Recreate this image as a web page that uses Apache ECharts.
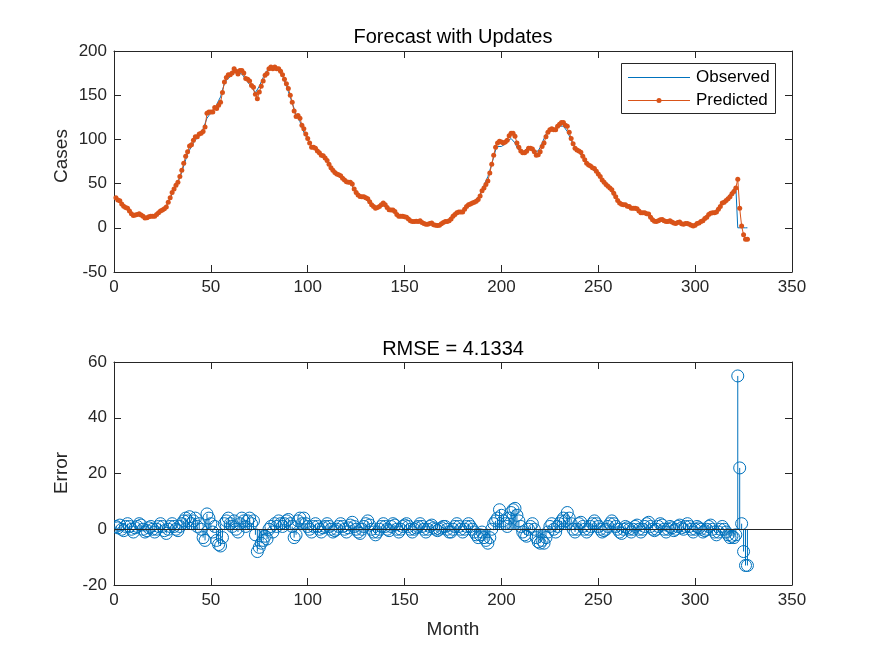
<!DOCTYPE html>
<html>
<head>
<meta charset="utf-8">
<script src="https://cdn.jsdelivr.net/npm/echarts@6/dist/echarts.min.js"></script>
<style>
html,body{margin:0;padding:0;background:#fff;}
#chart{width:875px;height:656px;}
</style>
</head>
<body>
<div id="chart"></div>
<script>
// ---- data ----
const observed = [
33,31,29,27,25,22,20,18,16,15,
14,14,14,13,13,12,12,12,12,13,
14,15,16,17,19,22,25,29,33,38,
43,48,52,57,63,70,77,83,88,92,
96,99,102,104,107,112,118,124,127,129,
132,135,139,144,148,156,163,167,169,171,
174,177,177,175,176,174,172,168,165,162,
159,156,153,154,160,165,170,175,178,180,
181,181,180,179,177,175,172,166,160,154,
148,141,135,128,124,120,114,108,104,100,
96,92,90,88,86,85,83,81,78,74,
71,68,66,63,61,59,57,55,54,53,
51,50,47,43,40,38,37,35,34,32,
30,28,26,25,24,24,24,25,26,25,
23,21,19,18,17,15,14,13,12,11,
10,9,8,8,7,7,6,6,5,5,
5,4,4,4,3,3,3,3,4,5,
6,7,9,11,13,14,15,17,18,19,
21,23,24,26,28,30,32,35,38,43,
48,53,58,65,72,80,88,92,91,92,
93,95,98,100,101,100,96,91,88,86,
86,87,89,90,89,87,86,85,87,91,
96,101,106,109,110,110,111,112,114,115,
116,115,113,109,104,99,95,91,88,85,
83,80,77,74,71,69,66,64,62,60,
58,55,52,49,46,43,40,37,34,31,
29,28,26,25,24,24,23,22,21,20,
19,18,17,16,14,13,11,9,8,7,
7,7,8,8,8,7,7,6,6,5,
5,5,4,4,4,3,3,3,3,3,
4,5,7,9,11,12,14,15,17,18,
20,22,24,27,29,32,35,38,41,44,
47,0,0,0,0,0,0
];
const errors = [
1,0.5,1.5,0,-0.5,1,2,1,0,-1,
0.5,1,2,1.5,0,-1,-0.5,0.5,1,0,
-1,0,1,2,1,-0.5,-1.5,0,1,2,
1,0,-0.5,1,2,3,4,3,4.5,2,
3,4,1,2,0,-3,-4,5.5,4,2,
-1,1,-4,-5.5,-6,-3,2,3,4,2,
1,3,0,-1,2,4,3,1,3,4,
2,3,-2,-8,-6.5,-5,-4,-2.5,-3.5,0,
1,-1,2,1,3,2,1,2,3,3.5,
2,1,-3,-2,3,4,2,4,2,1,
0,-1,1,2,1,0,-1,0.5,1,2,
1,0,-1,-0.5,0,1,2,1,0,-1,
0.5,1.5,2.5,1,0,-1,-1.5,0,1,2,
3,1.5,0,-1,-2,-1,0,1,2,1,
0,-0.5,1,2,1.5,0,-1,0,1,1.5,
2,1,0,-1,0,0.5,1,2,1,0,
-1,0,1,1.5,0.5,0,-0.5,0,0.5,1,
1,0,-1,-1,0,1,2,1,0,-1,
0,1,2,1,0,-1,-2,-3,-2,-1,
-3,-4,-5,-3,0,2,3,4,7,5,
3,2,1,4,6,7,7.5,5,3,1,
-1,-2,-2.5,0,1,2,0,-3,-4.5,-5,
-4,-5,-3,-1,1,2,0,-1,1,2,
3,4,3,6,4,2,0,-1,0,2,
2.5,1,0,-1,0,1,2,3,2,1,
0,-1,-0.5,0,1,2,3,2,1,0,
-1,-1.5,0,1,0.5,0,-1,0,1,1.5,
0,-1,0,1,2,2.5,1,0,-0.5,0,
1,2,1.5,0,-1,0,1,0.5,-0.5,0,
1,1.5,0.5,0,1,2,1,0,-1,0,
1,0.5,0,-1,-0.5,0,1,1.5,0,-1,
-2,-1,0,1,0,-1,-2,-3,-2.5,-3,
-2,55,22,2,-8,-13,-13
];
const rmseText = 'RMSE = 4.1334';
const topTitle = 'Forecast with Updates';
const legendNames = ['Observed', 'Predicted'];
const xTicks = {min:0, max:350, step:50};
const yTopTicks = {min:-50, max:200, step:50};
const yBotTicks = {min:-20, max:60, step:20};

// month index for each observation
const months = observed.map((_, i) => i + 1);
const obsData = months.map((m, i) => [m, observed[i]]);
const predData = months.map((m, i) => [m, observed[i] + errors[i]]);
const errData = months.map((m, i) => [m, errors[i]]);

const AX = '#262626';
const FONT = 'Liberation Sans, Arial, Helvetica, sans-serif';
const BLUE = '#0072BD';
const ORANGE = '#D95319';

function mkAx(grid, pos, labels, t) {
  return {
    gridIndex: grid, type: 'value', position: pos, min: t.min, max: t.max, interval: t.step,
    axisLine: {show: true, onZero: false, lineStyle: {color: AX, width: 1}},
    axisTick: {show: true, inside: true, length: 7, lineStyle: {color: AX, width: 1}},
    axisLabel: {show: labels, color: AX, fontSize: 17, fontFamily: FONT, margin: 7},
    splitLine: {show: false}
  };
}

// legend box geometry
const LG = {x: 621, y: 63, w: 154, h: 50};

const chart = echarts.init(document.getElementById('chart'), null, {renderer: 'canvas'});
const option = {
  animation: false,
  backgroundColor: '#fff',
  grid: [
    {left: 114, top: 51, width: 678, height: 221},
    {left: 114, top: 362, width: 678, height: 223}
  ],
  xAxis: [
    mkAx(0, 'bottom', true, xTicks), mkAx(0, 'top', false, xTicks),
    mkAx(1, 'bottom', true, xTicks), mkAx(1, 'top', false, xTicks)
  ],
  yAxis: [
    mkAx(0, 'left', true, yTopTicks), mkAx(0, 'right', false, yTopTicks),
    mkAx(1, 'left', true, yBotTicks), mkAx(1, 'right', false, yBotTicks)
  ],
  series: [
    {
      name: legendNames[0], type: 'line', xAxisIndex: 0, yAxisIndex: 0,
      data: obsData, showSymbol: false, symbol: 'none',
      lineStyle: {color: BLUE, width: 1}, itemStyle: {color: BLUE}, z: 2
    },
    {
      name: legendNames[1], type: 'line', xAxisIndex: 0, yAxisIndex: 0,
      data: predData, symbol: 'circle', symbolSize: 5, showSymbol: true, showAllSymbol: true,
      lineStyle: {color: ORANGE, width: 1}, itemStyle: {color: ORANGE}, z: 3
    },
    {
      name: 'Error', type: 'custom', xAxisIndex: 2, yAxisIndex: 2,
      data: errData, clip: true,
      renderItem: function (params, api) {
        const x = api.value(0), y = api.value(1);
        const p0 = api.coord([x, 0]);
        const p1 = api.coord([x, y]);
        return {
          type: 'group',
          children: [
            {type: 'line', shape: {x1: p0[0], y1: p0[1], x2: p1[0], y2: p1[1]},
             style: {stroke: BLUE, lineWidth: 1}},
            {type: 'circle', shape: {cx: p1[0], cy: p1[1], r: 6},
             style: {fill: 'none', stroke: BLUE, lineWidth: 1}}
          ]
        };
      },
      z: 3
    },
    {
      name: 'Baseline', type: 'line', xAxisIndex: 2, yAxisIndex: 2, data: [],
      markLine: {
        silent: true, symbol: ['none', 'none'], label: {show: false},
        lineStyle: {color: AX, width: 1, type: 'solid'},
        data: [{yAxis: 0}]
      },
      z: 4
    }
  ],
  graphic: [
    {type: 'text', x: 453, y: 37, style: {text: topTitle, textAlign: 'center', textVerticalAlign: 'middle', font: '20px ' + FONT, fill: '#000'}},
    {type: 'text', x: 453, y: 349, style: {text: rmseText, textAlign: 'center', textVerticalAlign: 'middle', font: '20px ' + FONT, fill: '#000'}},
    {type: 'text', x: 62, y: 156, rotation: Math.PI / 2, style: {text: 'Cases', textAlign: 'center', textVerticalAlign: 'middle', font: '19px ' + FONT, fill: AX}},
    {type: 'text', x: 62, y: 473, rotation: Math.PI / 2, style: {text: 'Error', textAlign: 'center', textVerticalAlign: 'middle', font: '19px ' + FONT, fill: AX}},
    {type: 'text', x: 453, y: 630, style: {text: 'Month', textAlign: 'center', textVerticalAlign: 'middle', font: '19px ' + FONT, fill: AX}},
    // legend
    {type: 'rect', z: 100, shape: {x: LG.x + 0.5, y: LG.y + 0.5, width: LG.w, height: LG.h}, style: {fill: '#fff', stroke: AX, lineWidth: 1}},
    {type: 'line', z: 101, shape: {x1: LG.x + 7, y1: LG.y + 14.5, x2: LG.x + 69, y2: LG.y + 14.5}, style: {stroke: BLUE, lineWidth: 1}},
    {type: 'line', z: 101, shape: {x1: LG.x + 7, y1: LG.y + 37.5, x2: LG.x + 69, y2: LG.y + 37.5}, style: {stroke: ORANGE, lineWidth: 1}},
    {type: 'circle', z: 102, shape: {cx: LG.x + 38, cy: LG.y + 37.5, r: 2.5}, style: {fill: ORANGE}},
    {type: 'text', z: 102, x: LG.x + 75, y: LG.y + 14.5, style: {text: legendNames[0], textVerticalAlign: 'middle', font: '17px ' + FONT, fill: '#000'}},
    {type: 'text', z: 102, x: LG.x + 75, y: LG.y + 37.5, style: {text: legendNames[1], textVerticalAlign: 'middle', font: '17px ' + FONT, fill: '#000'}}
  ]
};
chart.setOption(option);
</script>
</body>
</html>
